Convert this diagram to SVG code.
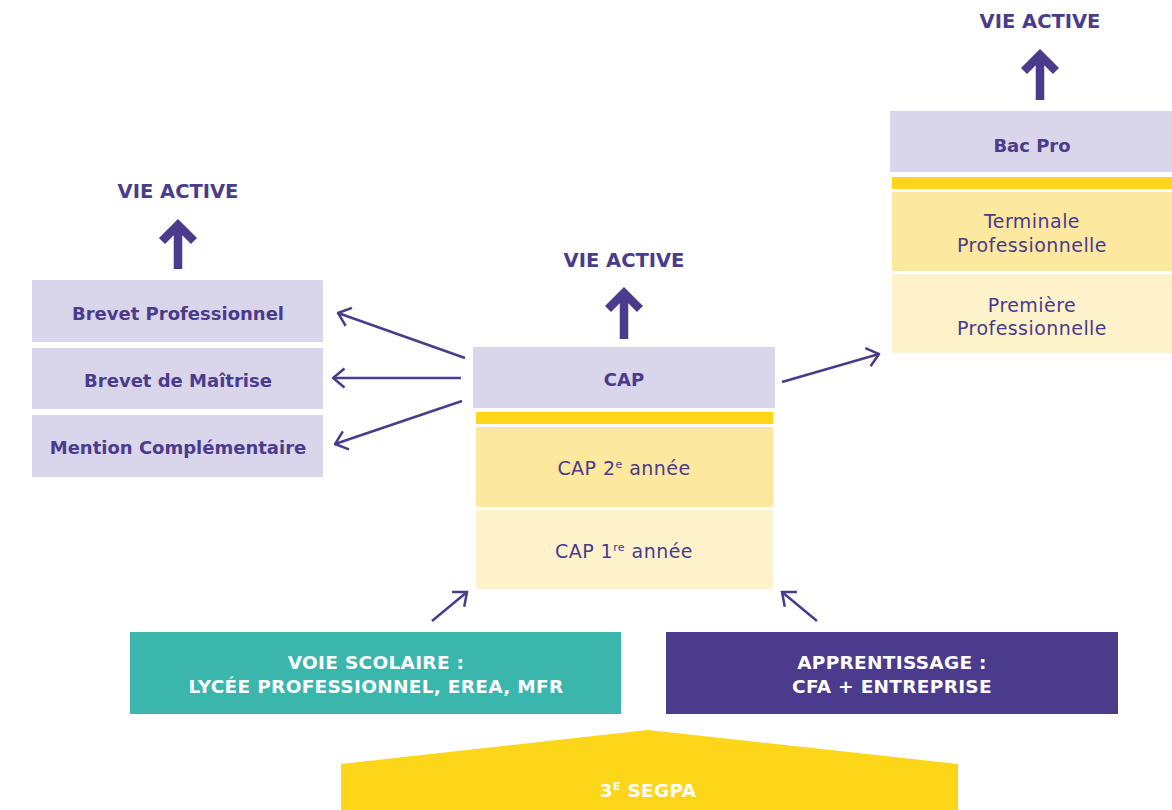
<svg xmlns="http://www.w3.org/2000/svg" width="1172" height="810" viewBox="0 0 1172 810">
<defs>
<style>
.lav{fill:#d9d5eb}
.bar{fill:#ffd619}
.y2{fill:#fde8a0}
.y1{fill:#fef2cb}
.t{font-family:"DejaVu Sans","Liberation Sans",sans-serif;text-anchor:middle;fill:#4a3b8c}
.b{font-weight:bold;font-size:18px}
.r{font-size:19px;letter-spacing:0.45px}
.va{font-weight:bold;font-size:19.5px}
.w{fill:#ffffff;font-weight:bold;font-size:18.5px;letter-spacing:0.3px}
.big{fill:none;stroke:#4a3b8c;stroke-width:8.5;stroke-linejoin:miter;stroke-linecap:butt}
.con{fill:none;stroke:#4a3b8c;stroke-width:2.5}
</style>
<marker id="ah" viewBox="0 0 14 22" refX="12.5" refY="11" markerWidth="14" markerHeight="22" markerUnits="userSpaceOnUse" orient="auto">
<path d="M1,1.5 L12.5,11 L1,20.5" fill="none" stroke="#4a3b8c" stroke-width="2.5"/>
</marker>
</defs>
<rect width="1172" height="810" fill="#ffffff"/>

<g id="vie-active-left">
<text class="t va" x="178" y="198">VIE ACTIVE</text>
<path class="big" d="M178,269 L178,226 M162,241 L178,225 L194,241"/>
</g>
<g id="vie-active-center">
<text class="t va" x="624" y="267">VIE ACTIVE</text>
<path class="big" d="M624,339 L624,294 M608,309 L624,293 L640,309"/>
</g>
<g id="vie-active-right">
<text class="t va" x="1040" y="28">VIE ACTIVE</text>
<path class="big" d="M1040,100 L1040,56 M1024,71 L1040,55 L1056,71"/>
</g>

<g id="brevet-pro">
<rect class="lav" x="32" y="280" width="291" height="62"/>
<text class="t b" x="178" y="320">Brevet Professionnel</text>
</g>
<g id="brevet-maitrise">
<rect class="lav" x="32" y="348" width="291" height="61"/>
<text class="t b" x="178" y="387">Brevet de Maîtrise</text>
</g>
<g id="mention">
<rect class="lav" x="32" y="415" width="291" height="62"/>
<text class="t b" x="178" y="454">Mention Complémentaire</text>
</g>

<g id="cap">
<rect class="lav" x="473" y="347" width="302" height="61"/>
<text class="t b" x="624" y="386">CAP</text>
</g>
<g id="cap-bar">
<rect class="bar" x="476" y="412" width="297" height="12"/>
</g>
<g id="cap2">
<rect class="y2" x="476" y="427" width="297" height="80"/>
<text class="t r" x="624" y="475">CAP 2<tspan font-size="11" dy="-7">e</tspan><tspan dy="7"> année</tspan></text>
</g>
<g id="cap1">
<rect class="y1" x="476" y="510" width="297" height="79"/>
<text class="t r" x="624" y="558">CAP 1<tspan font-size="11" dy="-7">re</tspan><tspan dy="7"> année</tspan></text>
</g>

<g id="bac-pro">
<rect class="lav" x="890" y="111" width="282" height="61"/>
<text class="t b" x="1032" y="152">Bac Pro</text>
</g>
<g id="bac-bar">
<rect class="bar" x="892" y="177" width="280" height="12"/>
</g>
<g id="terminale">
<rect class="y2" x="892" y="192" width="280" height="79"/>
<text class="t r" x="1032" y="228">Terminale</text>
<text class="t r" x="1032" y="252">Professionnelle</text>
</g>
<g id="premiere">
<rect class="y1" x="892" y="274" width="280" height="79"/>
<text class="t r" x="1032" y="312">Première</text>
<text class="t r" x="1032" y="335">Professionnelle</text>
</g>

<g id="voie-scolaire">
<rect x="130" y="632" width="491" height="82" fill="#3ab6ac"/>
<text class="t w" x="376" y="669">VOIE SCOLAIRE :</text>
<text class="t w" x="376" y="693">LYCÉE PROFESSIONNEL, EREA, MFR</text>
</g>
<g id="apprentissage">
<rect x="666" y="632" width="452" height="82" fill="#4a3b8c"/>
<text class="t w" x="892" y="669">APPRENTISSAGE :</text>
<text class="t w" x="892" y="693">CFA + ENTREPRISE</text>
</g>
<g id="segpa">
<polygon points="341,764 648,730 958,764 958,810 341,810" fill="#fed619"/>
<text class="t w" x="648" y="797">3<tspan font-size="11" dy="-7">E</tspan><tspan dy="7"> SEGPA</tspan></text>
</g>

<g id="connectors">
<line class="con" x1="465" y1="358" x2="338" y2="313" marker-end="url(#ah)"/>
<line class="con" x1="461" y1="378" x2="333" y2="378" marker-end="url(#ah)"/>
<line class="con" x1="462" y1="401" x2="335" y2="444" marker-end="url(#ah)"/>
<line class="con" x1="782" y1="382" x2="879" y2="354" marker-end="url(#ah)"/>
<line class="con" x1="432" y1="621" x2="467" y2="592" marker-end="url(#ah)"/>
<line class="con" x1="817" y1="621" x2="782" y2="592" marker-end="url(#ah)"/>
</g>
</svg>
